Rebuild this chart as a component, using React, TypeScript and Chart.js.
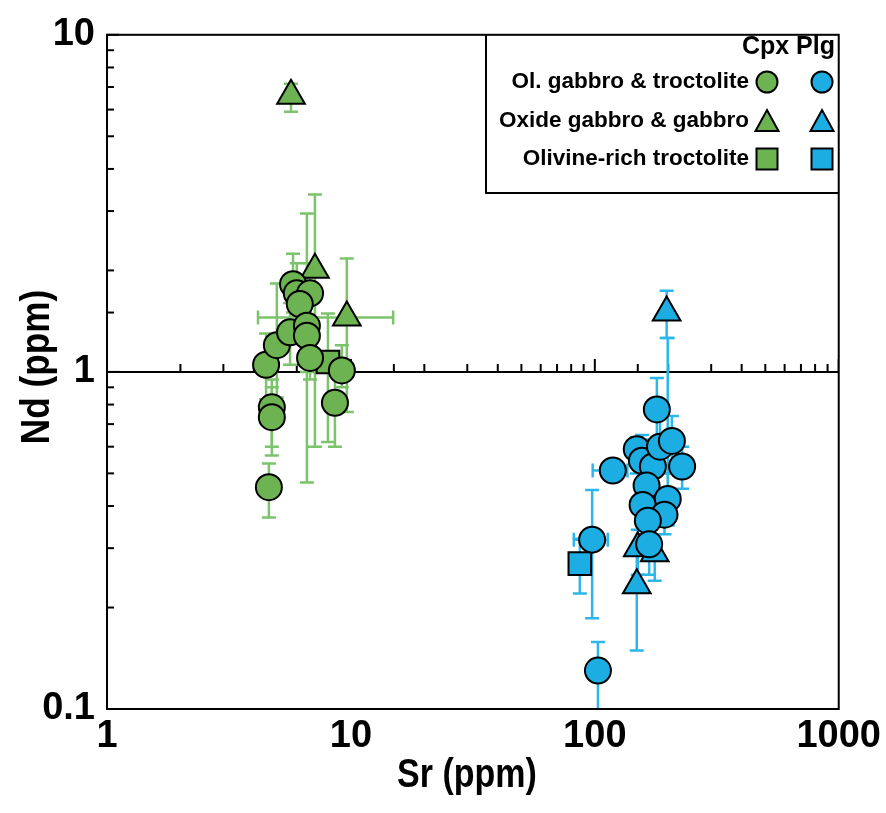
import React, { useEffect, useRef } from 'react';
import { Chart, registerables } from 'chart.js';

Chart.register(...registerables);

const FONT = "'Liberation Sans', Arial, Helvetica, sans-serif";
const GREEN = '#6db352';
const GREEN_ERR = '#7cc46b';
const BLUE = '#1cade3';
const BLUE_ERR = '#2cb6ea';

// Axis ticks
const srTickValues = [1, 10, 100, 1000];
const srTickLabels = ['1', '10', '100', '1000'];
const ndTickValues = [0.1, 1, 10];
const ndTickLabels = ['0.1', '1', '10'];
const xTitle = 'Sr (ppm)';
const yTitle = 'Nd (ppm)';

// Legend
const legendHeader = 'Cpx Plg';
const legendLabels = ['Ol. gabbro & troctolite', 'Oxide gabbro & gabbro', 'Olivine-rich troctolite'];
const legendShapes = ['circle', 'triangle', 'rect'];

// Cpx — Ol. gabbro & troctolite (circles)
const cpxCircSr = [4.49, 4.97, 5.63, 5.79, 6.0, 6.8, 6.17, 6.6, 6.6, 6.8, 9.18, 8.6, 4.74, 4.74, 4.61];
const cpxCircNd = [1.05, 1.2, 1.31, 1.82, 1.71, 1.71, 1.59, 1.37, 1.28, 1.1, 1.01, 0.81, 0.785, 0.734, 0.455];
const cpxCircNdLo = [0.83, 0.84, 1.05, 1.5, 1.35, 1.4, 1.3, 0.47, 1.0, 0.95, 0.9, 0.6, 0.6, 0.565, 0.37];
const cpxCircNdHi = [1.3, 1.83, 1.6, 2.24, 2.1, 2.1, 1.9, 2.95, 1.6, 1.3, 1.2, 1.0, 0.95, 0.9, 0.535];
const cpxCircSrLo = [null, null, null, null, null, null, null, null, null, null, null, null, null, null, null];
const cpxCircSrHi = [null, null, null, null, null, null, null, null, null, null, null, null, null, null, null];

// Cpx — Oxide gabbro & gabbro (triangles)
const cpxTriSr = [5.68, 7.12, 9.62];
const cpxTriNd = [6.59, 2.01, 1.45];
const cpxTriNdLo = [5.91, 0.6, 0.76];
const cpxTriNdHi = [7.16, 3.36, 2.17];
const cpxTriSrLo = [null, null, 4.16];
const cpxTriSrHi = [null, null, 14.9];

// Cpx — Olivine-rich troctolite (square)
const cpxSqSr = [8.05];
const cpxSqNd = [1.07];
const cpxSqNdLo = [0.62];
const cpxSqNdHi = [1.49];
const cpxSqSrLo = [7.2];
const cpxSqSrHi = [9.0];

// Plg — Ol. gabbro & troctolite (circles)
const plgCircSr = [179.6, 118.5, 148.6, 156, 173, 185, 207, 228, 163, 199, 157, 193, 165, 167, 97.5, 103];
const plgCircNd = [0.774, 0.51, 0.59, 0.545, 0.524, 0.6, 0.624, 0.524, 0.46, 0.42, 0.403, 0.377, 0.362, 0.308, 0.318, 0.13];
const plgCircNdLo = [0.6, null, 0.5, 0.45, 0.42, 0.5, 0.5, 0.45, 0.38, 0.35, 0.33, 0.33, 0.3, 0.25, 0.186, 0.08];
const plgCircNdHi = [0.96, null, 0.64, 0.65, 0.63, 0.75, 0.74, 0.6, 0.55, 1.26, 0.48, 0.45, 0.42, 0.36, 0.446, 0.158];
const plgCircSrLo = [null, 98, null, null, null, null, 190, 205, null, null, null, null, null, null, 82, null];
const plgCircSrHi = [null, 136, null, null, null, null, 226, 245, null, null, null, null, null, null, 113, null];

// Plg — Oxide gabbro & gabbro (triangles)
const plgTriSr = [197, 150, 176, 148.6];
const plgTriNd = [1.5, 0.3, 0.29, 0.233];
const plgTriNdLo = [1.26, 0.25, 0.24, 0.149];
const plgTriNdHi = [1.74, 0.34, 0.33, 0.3];
const plgTriSrLo = [null, null, null, null];
const plgTriSrHi = [null, null, null, null];

// Plg — Olivine-rich troctolite (square)
const plgSqSr = [86.8];
const plgSqNd = [0.27];
const plgSqNdLo = [0.22];
const plgSqNdHi = [0.32];
const plgSqSrLo = [80];
const plgSqSrHi = [95];

function build(sr: number[], nd: number[], srLo: any[], srHi: any[], ndLo: any[], ndHi: any[]) {
  return sr.map((x, i) => ({ x, y: nd[i], xLo: srLo[i], xHi: srHi[i], yLo: ndLo[i], yHi: ndHi[i] }));
}

function ds(data: any[], shape: string, fill: string, err: string, radius: number) {
  return {
    data,
    pointStyle: shape,
    pointRadius: radius,
    pointHoverRadius: radius,
    pointBackgroundColor: fill,
    pointBorderColor: '#000',
    pointBorderWidth: 2,
    showLine: false,
    errColor: err,
  } as any;
}

function isPow10(v: number, list: number[]) {
  return list.findIndex((t) => Math.abs(t - v) / t < 1e-6);
}

function drawShape(ctx: CanvasRenderingContext2D, shape: string, x: number, y: number, size: number, fill: string) {
  ctx.save();
  ctx.fillStyle = fill;
  ctx.strokeStyle = '#000';
  ctx.lineWidth = 2;
  ctx.beginPath();
  if (shape === 'circle') {
    ctx.arc(x, y, size / 2, 0, Math.PI * 2);
  } else if (shape === 'triangle') {
    const h = size * 0.95;
    ctx.moveTo(x, y - h / 2 - 1);
    ctx.lineTo(x + size / 2 + 1, y + h / 2);
    ctx.lineTo(x - size / 2 - 1, y + h / 2);
    ctx.closePath();
  } else {
    ctx.rect(x - size / 2, y - size / 2, size, size);
  }
  ctx.fill();
  ctx.stroke();
  ctx.restore();
}

function condensedText(ctx: CanvasRenderingContext2D, text: string, x: number, y: number, rot: number, sx: number) {
  ctx.save();
  ctx.translate(x, y);
  ctx.rotate(rot);
  ctx.scale(sx, 1);
  ctx.fillText(text, 0, 0);
  ctx.restore();
}

const decorPlugin = {
  id: 'decor',
  beforeDatasetsDraw(chart: any) {
    const { ctx, chartArea: a, scales } = chart;
    const xs = scales.x;
    const ys = scales.y;
    ctx.save();
    ctx.beginPath();
    ctx.rect(a.left, a.top, a.right - a.left, a.bottom - a.top);
    ctx.clip();
    // Nd = 1 reference line with upward ticks
    const y1 = ys.getPixelForValue(1);
    ctx.strokeStyle = '#000';
    ctx.lineWidth = 2;
    ctx.beginPath();
    ctx.moveTo(a.left, y1);
    ctx.lineTo(a.right, y1);
    ctx.stroke();
    xs.ticks.forEach((t: any) => {
      const px = xs.getPixelForValue(t.value);
      const major = isPow10(t.value, srTickValues) >= 0;
      ctx.beginPath();
      ctx.moveTo(px, y1);
      ctx.lineTo(px, y1 - (major ? 13 : 8));
      ctx.stroke();
    });
    // error bars
    chart.data.datasets.forEach((d: any) => {
      ctx.strokeStyle = d.errColor;
      ctx.lineWidth = 2.5;
      d.data.forEach((p: any) => {
        const px = xs.getPixelForValue(p.x);
        const py = ys.getPixelForValue(p.y);
        const cap = 7;
        const vline = (v: any) => {
          if (v == null) return;
          const ey = ys.getPixelForValue(v);
          ctx.beginPath();
          ctx.moveTo(px, py);
          ctx.lineTo(px, ey);
          ctx.moveTo(px - cap, ey);
          ctx.lineTo(px + cap, ey);
          ctx.stroke();
        };
        const hline = (v: any) => {
          if (v == null) return;
          const ex = xs.getPixelForValue(v);
          ctx.beginPath();
          ctx.moveTo(px, py);
          ctx.lineTo(ex, py);
          ctx.moveTo(ex, py - cap);
          ctx.lineTo(ex, py + cap);
          ctx.stroke();
        };
        vline(p.yLo);
        vline(p.yHi);
        hline(p.xLo);
        hline(p.xHi);
      });
    });
    ctx.restore();
  },
  afterDraw(chart: any) {
    const { ctx, chartArea: a, scales } = chart;
    const ys = scales.y;
    ctx.save();
    // frame
    ctx.strokeStyle = '#000';
    ctx.lineWidth = 2;
    ctx.strokeRect(a.left, a.top, a.right - a.left, a.bottom - a.top);
    // left axis inward ticks
    ys.ticks.forEach((t: any) => {
      const py = ys.getPixelForValue(t.value);
      const major = isPow10(t.value, ndTickValues) >= 0;
      ctx.beginPath();
      ctx.moveTo(a.left, py);
      ctx.lineTo(a.left + (major ? 12 : 7), py);
      ctx.stroke();
    });
    // axis titles
    ctx.fillStyle = '#000';
    ctx.font = `bold 40px ${FONT}`;
    ctx.textAlign = 'center';
    ctx.textBaseline = 'middle';
    condensedText(ctx, xTitle, 467, 776, 0, 0.85);
    condensedText(ctx, yTitle, 38, 367, -Math.PI / 2, 0.88);
    // legend box
    const lx = 486;
    const ly = 193;
    ctx.lineWidth = 2;
    ctx.beginPath();
    ctx.moveTo(lx, a.top);
    ctx.lineTo(lx, ly);
    ctx.lineTo(a.right, ly);
    ctx.stroke();
    ctx.font = `bold 25px ${FONT}`;
    ctx.textAlign = 'right';
    ctx.fillText(legendHeader, 835, 47);
    ctx.font = `bold 22.5px ${FONT}`;
    const rowY = [82, 121, 159];
    legendLabels.forEach((lab, i) => {
      ctx.fillStyle = '#000';
      ctx.textAlign = 'right';
      ctx.fillText(lab, 749, rowY[i]);
      drawShape(ctx, legendShapes[i], 767, rowY[i], 21, GREEN);
      drawShape(ctx, legendShapes[i], 822, rowY[i], 21, BLUE);
    });
    ctx.restore();
  },
};

export default function App() {
  const ref = useRef<HTMLCanvasElement>(null);
  useEffect(() => {
    if (!ref.current) return;
    const tickFont = { family: FONT, size: 38, weight: 'bold' as const };
    const chart = new Chart(ref.current, {
      type: 'scatter',
      data: {
        datasets: [
          ds(build(cpxCircSr, cpxCircNd, cpxCircSrLo, cpxCircSrHi, cpxCircNdLo, cpxCircNdHi), 'circle', GREEN, GREEN_ERR, 13),
          ds(build(cpxTriSr, cpxTriNd, cpxTriSrLo, cpxTriSrHi, cpxTriNdLo, cpxTriNdHi), 'triangle', GREEN, GREEN_ERR, 16),
          ds(build(cpxSqSr, cpxSqNd, cpxSqSrLo, cpxSqSrHi, cpxSqNdLo, cpxSqNdHi), 'rect', GREEN, GREEN_ERR, 16),
          ds(build(plgCircSr, plgCircNd, plgCircSrLo, plgCircSrHi, plgCircNdLo, plgCircNdHi), 'circle', BLUE, BLUE_ERR, 13),
          ds(build(plgTriSr, plgTriNd, plgTriSrLo, plgTriSrHi, plgTriNdLo, plgTriNdHi), 'triangle', BLUE, BLUE_ERR, 16),
          ds(build(plgSqSr, plgSqNd, plgSqSrLo, plgSqSrHi, plgSqNdLo, plgSqNdHi), 'rect', BLUE, BLUE_ERR, 16),
        ],
      },
      options: {
        animation: false,
        responsive: false,
        maintainAspectRatio: false,
        layout: { padding: { top: 25, right: 47, left: 0, bottom: 0 } },
        plugins: { legend: { display: false }, tooltip: { enabled: false } },
        scales: {
          x: {
            type: 'logarithmic',
            min: 1,
            max: 1000,
            afterFit: (s: any) => { s.height = 104; },
            grid: { display: false, drawTicks: false },
            border: { display: false },
            ticks: {
              autoSkip: false,
              maxRotation: 0,
              padding: 5,
              color: '#000',
              font: tickFont,
              callback: (v: any) => {
                const i = isPow10(Number(v), srTickValues);
                return i >= 0 ? srTickLabels[i] : '';
              },
            },
          },
          y: {
            type: 'logarithmic',
            min: 0.1,
            max: 10,
            afterFit: (s: any) => { s.width = 107; },
            grid: { display: false, drawTicks: false },
            border: { display: false },
            ticks: {
              autoSkip: false,
              padding: 12,
              color: '#000',
              font: tickFont,
              callback: (v: any) => {
                const i = isPow10(Number(v), ndTickValues);
                return i >= 0 ? ndTickLabels[i] : '';
              },
            },
          },
        },
      } as any,
      plugins: [decorPlugin],
    });
    return () => chart.destroy();
  }, []);
  return (
    <div style={{ position: 'fixed', left: 0, top: 0, width: 886, height: 813, background: '#fff' }}>
      <canvas ref={ref} width={886} height={813} style={{ width: 886, height: 813 }} />
    </div>
  );
}
